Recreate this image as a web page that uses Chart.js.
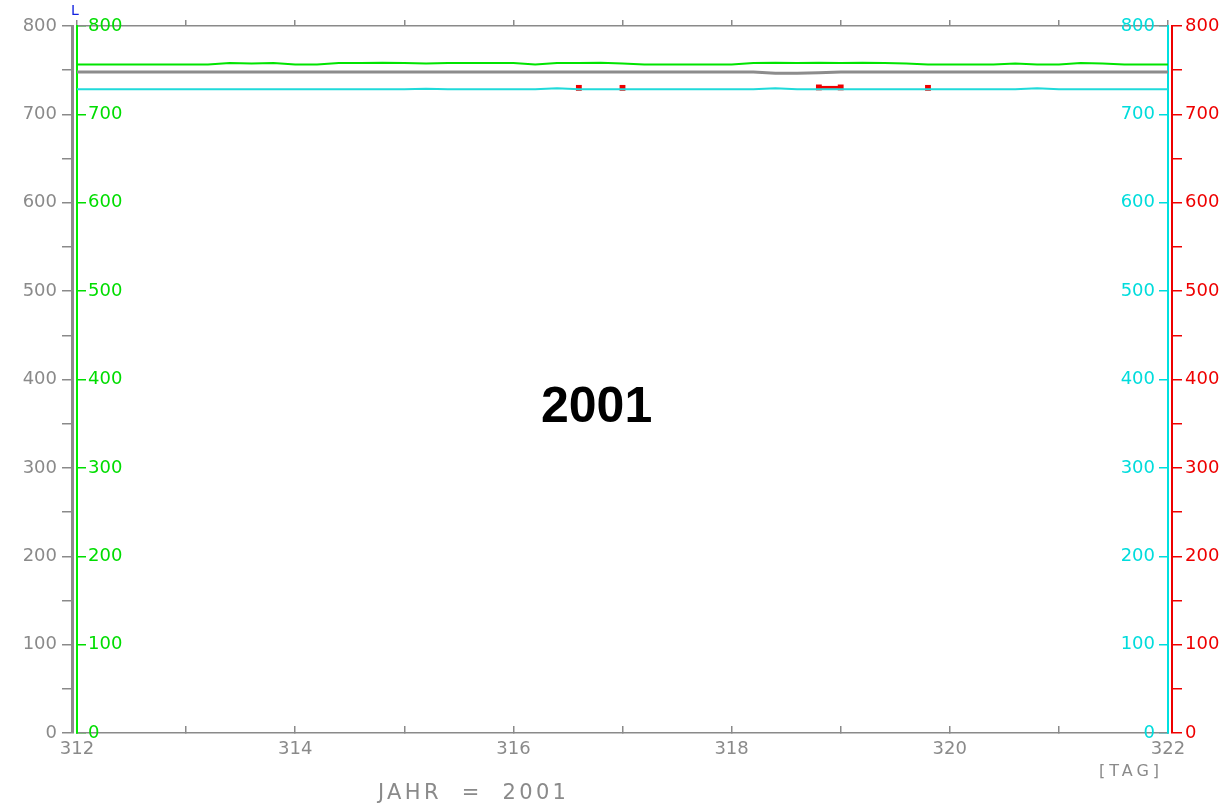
<!DOCTYPE html>
<html>
<head>
<meta charset="utf-8">
<script src="https://cdn.jsdelivr.net/npm/chart.js@4/dist/chart.umd.min.js"></script>
<style>
  html, body { margin: 0; padding: 0; background: #fff; }
  #wrap { position: relative; width: 1224px; height: 808px; }
  canvas { display: block; }
  .txt { position: absolute; font-family: 'DejaVu Sans', sans-serif; color: #8a8a8a; white-space: pre; }
</style>
</head>
<body>
<div id="wrap">
  <canvas id="chart" width="1224" height="808"></canvas>
  <div class="txt" style="left:541px;top:380px;font:bold 50px 'Liberation Sans',Arial,sans-serif;line-height:50px;color:#000;">2001</div>
  <div class="txt" style="left:378px;top:779px;font-size:21px;line-height:26px;letter-spacing:3.3px;">JAHR  =  2001</div>
  <div class="txt" style="left:1099px;top:761px;font-size:16px;line-height:20px;letter-spacing:4px;">[TAG]</div>
  <div class="txt" style="left:71px;top:2px;font-size:14px;line-height:16px;color:#1020e0;">L</div>
</div>
<script>
// Tag (x) alle 0.2 Tage
const days = [
  312.0, 312.2, 312.4, 312.6, 312.8, 313.0, 313.2, 313.4, 313.6, 313.8,
  314.0, 314.2, 314.4, 314.6, 314.8, 315.0, 315.2, 315.4, 315.6, 315.8,
  316.0, 316.2, 316.4, 316.6, 316.8, 317.0, 317.2, 317.4, 317.6, 317.8,
  318.0, 318.2, 318.4, 318.6, 318.8, 319.0, 319.2, 319.4, 319.6, 319.8,
  320.0, 320.2, 320.4, 320.6, 320.8, 321.0, 321.2, 321.4, 321.6, 321.8,
  322.0
];

// gruen (linke innere Achse)
const greenVals = [
  756.5, 756.5, 756.5, 756.5, 756.5, 756.5, 756.5, 758, 757.5, 758,
  756.5, 756.5, 758, 758, 758.5, 758, 757.5, 758, 758, 758,
  758, 756.5, 758, 758, 758.5, 757.5, 756.5, 756.5, 756.5, 756.5,
  756.5, 758, 758.5, 758, 758.5, 758, 758.5, 758, 757.5, 756.5,
  756.5, 756.5, 756.5, 757.5, 756.5, 756.5, 758, 757.5, 756.5, 756.5,
  756.5
];

// grau (linke aeussere Achse)
const grayVals = [
  748, 748, 748, 748, 748, 748, 748, 748, 748, 748,
  748, 748, 748, 748, 748, 748, 748, 748, 748, 748,
  748, 748, 748, 748, 748, 748, 748, 748, 748, 748,
  748, 748, 746.5, 746.5, 747, 748, 748, 748, 748, 748,
  748, 748, 748, 748, 748, 748, 748, 748, 748, 748,
  748
];

// tuerkis (rechte innere Achse)
const cyanVals = [
  728.5, 728.5, 728.5, 728.5, 728.5, 728.5, 728.5, 728.5, 728.5, 728.5,
  728.5, 728.5, 728.5, 728.5, 728.5, 728.5, 729, 728.5, 728.5, 728.5,
  728.5, 728.5, 729.5, 728.5, 728.5, 728.5, 728.5, 728.5, 728.5, 728.5,
  728.5, 728.5, 729.5, 728.5, 728.5, 728.5, 728.5, 728.5, 728.5, 728.5,
  728.5, 728.5, 728.5, 728.5, 729.5, 728.5, 728.5, 728.5, 728.5, 728.5,
  728.5
];

// rot (rechte aeussere Achse), nur vereinzelt
const redVals = [
  null, null, null, null, null, null, null, null, null, null,
  null, null, null, null, null, null, null, null, null, null,
  null, null, null, 730, null, 730, null, null, null, null,
  null, null, null, null, 730.5, 730.5, null, null, null, 730,
  null, null, null, null, null, null, null, null, null, null,
  null
];

const yMin = 0;
const yMax = 800;

const GRAY = '#8a8a8a';
const GREEN = '#00dd00';
const CYAN = '#00dcdc';
const RED = '#ee0000';

const pts = (vals) => days.map((d, i) => ({ x: d, y: vals[i] }));
const tickFont = { family: "'DejaVu Sans', sans-serif", size: 18 };

new Chart(document.getElementById('chart').getContext('2d'), {
  type: 'line',
  data: {
    datasets: [
      { data: pts(greenVals), xAxisID: 'x', yAxisID: 'yGreen', borderColor: '#00e400', borderWidth: 2, pointRadius: 0 },
      { data: pts(grayVals), xAxisID: 'x', yAxisID: 'yGray', borderColor: '#8c8c8c', borderWidth: 3, pointRadius: 0 },
      { data: pts(cyanVals), xAxisID: 'x', yAxisID: 'yCyan', borderColor: '#20dada', borderWidth: 2, pointRadius: 0 },
      { data: pts(redVals), xAxisID: 'x', yAxisID: 'yRed', borderColor: RED, backgroundColor: RED, borderWidth: 3,
        pointRadius: 2, pointStyle: 'rect', spanGaps: false },
    ],
  },
  options: {
    responsive: false,
    animation: false,
    layout: { padding: 0 },
    plugins: { legend: { display: false }, tooltip: { enabled: false } },
    elements: { line: { tension: 0 } },
    scales: {
      x: {
        type: 'linear', position: 'bottom', min: 312, max: 322,
        ticks: {
          stepSize: 1, autoSkip: false, maxRotation: 0, color: GRAY, font: tickFont, padding: 13,
          callback: (v) => (v % 2 === 0 ? v : ''),
        },
        grid: { display: true, drawOnChartArea: false, tickLength: -7, color: GRAY, lineWidth: 1.5 },
        border: { color: GRAY, width: 1.5 },
        afterFit: (s) => { s.height = 75; },
      },
      xTop: {
        type: 'linear', position: 'top', min: 312, max: 322,
        ticks: { stepSize: 1, display: false },
        grid: { display: true, drawOnChartArea: false, tickLength: 6, color: GRAY, lineWidth: 1.5 },
        border: { color: GRAY, width: 1.5 },
        afterFit: (s) => { s.height = 26; },
      },
      yGray: {
        position: 'left', weight: 2, min: yMin, max: yMax,
        ticks: { stepSize: 50, color: GRAY, font: tickFont, padding: 5, callback: (v) => (v % 100 === 0 ? v : '') },
        grid: { display: true, drawOnChartArea: false, tickLength: 10, color: GRAY, lineWidth: 1.5 },
        border: { color: '#8c8c8c', width: 3 },
        afterFit: (s) => { s.width = 72; },
      },
      yGreen: {
        position: 'left', weight: 1, min: yMin, max: yMax,
        ticks: { stepSize: 100, mirror: true, color: GREEN, font: tickFont, padding: 11 },
        grid: { display: true, drawOnChartArea: false, tickLength: -9, color: GREEN, lineWidth: 1.5 },
        border: { color: '#00ee00', width: 2 },
        afterFit: (s) => { s.width = 5; },
      },
      yCyan: {
        position: 'right', weight: 1, min: yMin, max: yMax,
        ticks: { stepSize: 100, mirror: true, color: CYAN, font: tickFont, padding: -13 },
        grid: { display: true, drawOnChartArea: false, tickLength: -9, color: CYAN, lineWidth: 1.5 },
        border: { color: '#00e0e0', width: 2 },
        afterFit: (s) => { s.width = 4; },
      },
      yRed: {
        position: 'right', weight: 2, min: yMin, max: yMax,
        ticks: { stepSize: 50, color: RED, font: tickFont, padding: 3, callback: (v) => (v % 100 === 0 ? v : '') },
        grid: { display: true, drawOnChartArea: false, tickLength: 10, color: RED, lineWidth: 1.5 },
        border: { color: RED, width: 2 },
        afterFit: (s) => { s.width = 52; },
      },
    },
  },
});
</script>
</body>
</html>
